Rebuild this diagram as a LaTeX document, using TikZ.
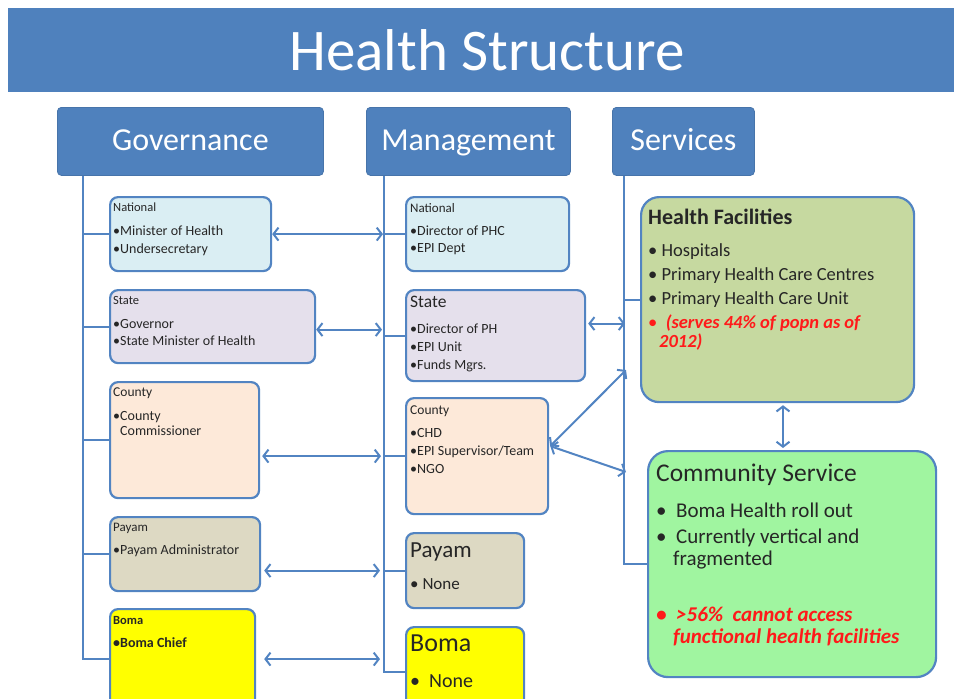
\documentclass[tikz,border=0pt]{standalone}
\usepackage{fontspec}
\setmainfont{Carlito}
\usetikzlibrary{arrows.meta,calc}
\definecolor{hsblue}{HTML}{4F81BD}
\definecolor{lineblue}{HTML}{5284C2}
\definecolor{natfill}{HTML}{DAEEF3}
\definecolor{statefill}{HTML}{E5E0EC}
\definecolor{countyfill}{HTML}{FDE9D9}
\definecolor{payamfill}{HTML}{DDD9C3}
\definecolor{bomafill}{HTML}{FFFF00}
\definecolor{hffill}{HTML}{C6D9A0}
\definecolor{csfill}{HTML}{A0F5A0}
\definecolor{alert}{HTML}{FF1A1A}
\definecolor{ink}{HTML}{262626}
\newcommand{\bul}{\textbullet}
\newcommand{\fs}[2]{\fontsize{#1}{#2}\selectfont}
\begin{document}
\begin{tikzpicture}[x=1pt,y=-1pt,
  banner/.style={fill=hsblue, draw=none, inner sep=0, anchor=north west},
  header/.style={fill=hsblue, draw=hsblue!90!black, line width=0.8pt, rounded corners=4pt,
    inner sep=0, anchor=north west, text=white, font=\fs{32}{36},
    text height=22pt, text depth=3.5pt},
  levelbox/.style={draw=lineblue, line width=2.2pt, rounded corners=8pt, inner sep=0, anchor=north west},
  bigbox/.style={levelbox, rounded corners=18pt},
  boxtext/.style={anchor=north west, inner sep=0, align=left, text=ink},
  conn/.style={draw=lineblue, line width=2pt},
  dbl/.style={conn, {Straight Barb[length=5pt,width=13pt]}-{Straight Barb[length=5pt,width=13pt]}}
]
\useasboundingbox (0,0) rectangle (954,699);
\clip (0,0) rectangle (954,699);

% title banner
\node[banner, minimum width=946pt, minimum height=84pt] (banner) at (8,8) {};
\node[text=white, font=\fs{59}{64}] (title) at (487,50) {Health Structure};

% column headers
\node[header, minimum width=266pt, minimum height=68pt] (gov) at (57,107) {Governance};
\node[header, minimum width=204pt, minimum height=68pt] (mgt) at (366,107) {Management};
\node[header, minimum width=142pt, minimum height=68pt] (svc) at (612,107) {Services};

% trunk lines below the headers
\coordinate (gtrunk) at (83,175);
\coordinate (mtrunk) at (384,175);
\coordinate (strunk) at (624,175);

% governance levels
\node[levelbox, fill=natfill, minimum width=161pt, minimum height=74pt] (gnat) at (109,196) {};
\node[levelbox, fill=statefill, minimum width=205pt, minimum height=73pt] (gst) at (109,289) {};
\node[levelbox, fill=countyfill, minimum width=149pt, minimum height=116pt] (gcty) at (109,381) {};
\node[levelbox, fill=payamfill, minimum width=150pt, minimum height=74pt] (gpay) at (109,516) {};
\node[levelbox, fill=bomafill, minimum width=145pt, minimum height=100pt] (gbom) at (109,608) {};

\node[boxtext, font=\fs{14}{18}] (gnatT) at (113,203)
  {{\fs{12.5}{18}National}\\[6pt]\bul Minister of Health\\\bul Undersecretary};
\node[boxtext, font=\fs{14}{17}] (gstT) at (113,296)
  {{\fs{12.5}{17}State}\\[7pt]\bul Governor\\\bul State Minister of Health};
\node[boxtext, font=\fs{14}{15}] (gctyT) at (113,388)
  {{\fs{13.5}{15}County}\\[9pt]\bul County\\\hspace*{7pt}Commissioner};
\node[boxtext, font=\fs{14}{18}] (gpayT) at (113,523)
  {{\fs{13}{18}Payam}\\[5pt]\bul Payam Administrator};
\node[boxtext, font=\fs{14}{18}\bfseries] (gbomT) at (113,616)
  {{\fs{12.5}{18}Boma}\\[5pt]\bul Boma Chief};

% management levels
\node[levelbox, fill=natfill, minimum width=163pt, minimum height=74pt] (mnat) at (405,196) {};
\node[levelbox, fill=statefill, minimum width=179pt, minimum height=91pt] (mst) at (405,289) {};
\node[levelbox, fill=countyfill, minimum width=142pt, minimum height=116pt] (mcty) at (405,397) {};
\node[levelbox, fill=payamfill, minimum width=118pt, minimum height=75pt] (mpay) at (405,532) {};
\node[levelbox, fill=bomafill, minimum width=118pt, minimum height=90pt] (mbom) at (405,626) {};

\node[boxtext, font=\fs{14}{17}] (mnatT) at (410,203)
  {{\fs{13}{17}National}\\[6pt]\bul Director of PHC\\\bul EPI Dept};
\node[boxtext, font=\fs{14}{18}] (mstT) at (410,296)
  {{\fs{17.5}{18}State}\\[8pt]\bul Director of PH\\\bul EPI Unit\\\bul Funds Mgrs.};
\node[boxtext, font=\fs{14}{18}] (mctyT) at (410,406)
  {{\fs{13.5}{18}County}\\[5pt]\bul CHD\\\bul EPI Supervisor/Team\\\bul NGO};
\node[boxtext, font=\fs{23}{24}] (mpayT) at (410,543)
  {Payam\\[8pt]{\fs{17}{24}\bul\ None}};
\node[boxtext, font=\fs{26}{26}] (mbomT) at (410,635)
  {Boma\\[10pt]{\fs{20}{26}\bul\ \ None}};

% services
\node[bigbox, fill=hffill, minimum width=273pt, minimum height=205pt] (hf) at (640,196) {};
\node[bigbox, fill=csfill, minimum width=288pt, minimum height=226pt, rounded corners=20pt] (cs) at (647,450) {};

\node[boxtext, font=\fs{18.5}{24}] (hfT) at (648,209)
  {{\fs{22}{24}\bfseries Health Facilities}\\[8pt]
   \bul\ Hospitals\\
   \bul\ Primary Health Care Centres\\
   \bul\ Primary Health Care Unit\\
   {\color{alert}\bul\ \ \bfseries\itshape (serves 44\% of popn as of}\\[-5pt]
   \hspace*{11pt}{\color{alert}\bfseries\itshape 2012)}};
\node[boxtext, font=\fs{21}{24}] (csT) at (656,464)
  {{\fs{25.5}{24}Community Service}\\[12pt]
   \bul\ \ Boma Health roll out\\[2pt]
   \bul\ \ Currently vertical and\\[-2pt]
   \hspace*{17pt}fragmented\\[32pt]
   {\color{alert}\bfseries\itshape \bul\ \ >56\%\ \ cannot access}\\[-2pt]
   \hspace*{17pt}{\color{alert}\bfseries\itshape functional health facilities}};

% governance trunk and branches
\draw[conn] (gov.south -| gtrunk) |- (gbom.west);
\foreach \b in {gnat,gst,gcty,gpay}
  \draw[conn] (gtrunk |- \b.west) -- (\b.west);

% management trunk and branches
\draw[conn] (mgt.south -| mtrunk) |- (mbom.west);
\foreach \b in {mnat,mst,mcty,mpay}
  \draw[conn] (mtrunk |- \b.west) -- (\b.west);

% services trunk and branches
\draw[conn] (svc.south -| strunk) |- (cs.west);
\draw[conn] (strunk |- hf.west) -- (hf.west);

% governance <-> management links
\draw[dbl] (gnat.east) -- ([xshift=-1pt]mtrunk |- gnat.east);
\draw[dbl] ([yshift=-3pt]gst.east) -- ([xshift=-2pt,yshift=-3pt]mtrunk |- gst.east);
\draw[dbl] ([xshift=2pt]gcty.east |- mcty.west) -- ([xshift=-3pt]mtrunk |- mcty.west);
\draw[dbl] ([xshift=3pt]gpay.east |- mpay.west) -- ([xshift=-4pt]mtrunk |- mpay.west);
\draw[dbl] ([xshift=8pt]gbom.east) -- ([xshift=-4pt]mtrunk |- gbom.east);

% management <-> services links
\coordinate (shf) at (626,370);
\coordinate (scs) at (626,472);
\draw[dbl] ([xshift=2pt,yshift=12pt]mst.east) -- ([xshift=1pt,yshift=12pt]strunk |- mst.east);
\draw[dbl] ([xshift=1pt,yshift=10pt]mcty.east) -- (shf);
\draw[dbl] ([xshift=1pt,yshift=10pt]mcty.east) -- (scs);

% facilities <-> community service
\draw[dbl] ([yshift=-2pt]hf.south -| 783,0) -- ([yshift=2pt]cs.north -| 783,0);
\end{tikzpicture}
\end{document}
